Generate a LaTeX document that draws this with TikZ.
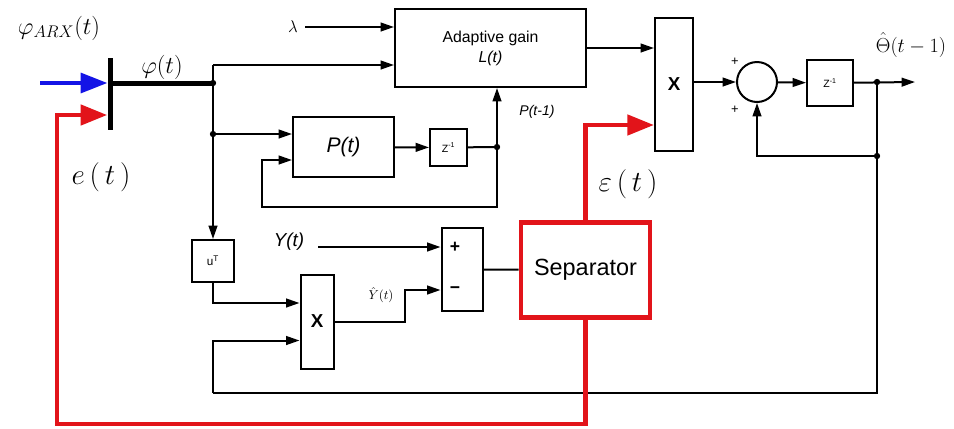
\documentclass[tikz,border=0pt]{standalone}
\usepackage{amsmath,amssymb}
\usepackage{fontspec}
\setmainfont{Liberation Sans}
\setsansfont{Liberation Sans}
\usepackage{tikz}
\usetikzlibrary{arrows.meta,calc,positioning}
\definecolor{sgred}{RGB}{226,20,26}
\definecolor{sgblue}{RGB}{20,20,230}

\begin{document}
\begin{tikzpicture}[
  x=0.3mm,y=-0.3mm,
  blk/.style={draw,line width=0.6mm,inner sep=0pt,align=center},
  redblk/.style={blk,draw=sgred,line width=1.4mm},
  wire/.style={line width=0.6mm},
  arr/.style={wire,-{Triangle[length=4mm,width=2.6mm]}},
  redw/.style={line width=1.4mm,sgred},
  redarr/.style={redw,-{Triangle[length=8mm,width=6mm]}},
  bluearr/.style={line width=1mm,sgblue,-{Triangle[length=8mm,width=6mm]}},
  jdot/.style={circle,fill,inner sep=0pt,minimum size=1.9mm},
  mlab/.style={inner sep=1pt,font=\fontsize{22}{26}\selectfont}
]
  \useasboundingbox (0,0) rectangle (954,428);
  \node[fill,inner sep=0pt,minimum width=1.5mm,minimum height=72*0.3mm] (mux) at (110,94) {};
  \node[blk,minimum width=191*0.3mm,minimum height=78*0.3mm,font=\fontsize{13.5}{17}\selectfont] (gain) at (490.5,48) {Adaptive gain\\\textit{L(t)}};
  \node[blk,minimum width=101*0.3mm,minimum height=60*0.3mm,font=\fontsize{18}{22}\selectfont\itshape] (ptb) at (343.5,147) {P(t)};
  \node[blk,minimum size=37*0.3mm,font=\fontsize{9}{10}\selectfont] (zp) at (448.5,147.5) {Z\textsuperscript{-1}};
  \node[blk,minimum width=38*0.3mm,minimum height=133*0.3mm,font=\fontsize{16}{18}\selectfont\bfseries] (xup) at (674,84.5) {X};
  \node[blk,circle,minimum size=40*0.3mm] (sumc) at (757,82) {};
  \node[blk,minimum size=46*0.3mm,font=\fontsize{9}{10}\selectfont] (zd) at (830,83) {Z\textsuperscript{-1}};
  \node[blk,minimum size=42*0.3mm,font=\fontsize{10}{12}\selectfont] (ut) at (213,261) {u\textsuperscript{T}};
  \node[blk,minimum width=33*0.3mm,minimum height=94*0.3mm,font=\fontsize{16}{18}\selectfont\bfseries] (xlo) at (317,321.5) {X};
  \node[blk,minimum width=41*0.3mm,minimum height=83*0.3mm] (diff) at (462,269.5) {};
  \node[redblk,minimum width=129*0.3mm,minimum height=95*0.3mm,font=\fontsize{20}{24}\selectfont] (sep) at (585.5,270) {Separator};

  \node[mlab] (arxlab) at (59,28) {$\varphi_{ARX}(t)$};
  \node[mlab] (philab) at (162,67) {$\varphi(t)$};
  \node[mlab,font=\fontsize{25}{30}\selectfont] (elab) at (101,177) {$e\,(\,t\,)$};
  \node[mlab,font=\fontsize{25}{30}\selectfont] (epslab) at (628,184) {$\varepsilon\,(\,t\,)$};
  \node[inner sep=1pt,font=\fontsize{15}{18}\selectfont] (lam) at (293,27) {$\lambda$};
  \node[inner sep=1pt,font=\fontsize{12}{14}\selectfont\itshape] (plab) at (537,112) {P(t-1)};
  \node[inner sep=0pt,font=\fontsize{16}{19}\selectfont] (thlab) at (911,45) {$\hat{\Theta}(t-1)$};
  \node[inner sep=1pt,font=\fontsize{16}{19}\selectfont\itshape] (yt) at (289,242) {Y(t)};
  \node[inner sep=0pt,font=\fontsize{11}{13}\selectfont] (yhlab) at (381,295) {$\hat{Y}(t)$};
  \node[inner sep=0pt,font=\fontsize{11}{13}\selectfont] (pa) at (735,62) {+};
  \node[inner sep=0pt,font=\fontsize{11}{13}\selectfont] (pb) at (735,110) {+};
  \node[inner sep=0pt,font=\fontsize{15}{17}\selectfont\bfseries] (dplus) at (455,247) {+};
  \node[inner sep=0pt,font=\fontsize{15}{17}\selectfont\bfseries] (dminus) at (455,290) {\textminus};

  \coordinate (arxin) at (40,83);
  \coordinate (phi) at (213,83);
  \coordinate (ptop) at (213,65);
  \coordinate (pmid) at (213,134);
  \coordinate (pd) at (497,147);
  \coordinate (pback) at (262,207);
  \coordinate (odot) at (877,82);
  \coordinate (fb) at (877,156);
  \coordinate (fbr) at (877,393);
  \coordinate (fbl) at (213,393);
  \coordinate (thout) at (915,82);
  \coordinate (ebot) at (57,424);
  \coordinate (ein) at (57,115);
  \coordinate (ytin) at (318,247);

  \draw[bluearr] (arxin) -- (arxin-|mux.west);
  \draw[line width=1.5mm] (arxin-|mux) -- (phi);
  \draw[wire] (ptop) -- (phi);
  \draw[arr] (ptop) -- (ptop-|gain.west);
  \draw[arr] (phi) -- (ut);
  \draw[arr] (pmid) -- (pmid-|ptb.west);
  \draw[arr] (lam.east) ++(6,0) -- (lam-|gain.west);
  \draw[arr] (gain.east) -- (gain.east-|xup.west);
  \draw[arr] (ptb) -- (zp);
  \draw[wire] (zp) -- (pd);
  \draw[arr] (pd) -- (pd|-gain.south);
  \draw[arr] (pd) |- (pback) |- ($(ptb.west)+(0,13)$);
  \draw[arr] (xup.east|-sumc) -- (sumc);
  \draw[arr] (sumc) -- (zd);
  \draw[arr] (zd) -- (thout);
  \draw[wire] (odot) -- (fbr) -- (fbl);
  \draw[arr] (fb) -| (sumc);
  \draw[arr] (fbl) |- ($(xlo.west)+(0,19)$);
  \draw[arr] (ut) |- ($(xlo.west)+(0,-18.5)$);
  \draw[arr] (xlo.east) -- ++(70,0) |- ($(diff.west)+(0,20.5)$);
  \draw[arr] (ytin) -- (ytin-|diff.west);
  \draw[wire] (diff) -- (sep);
  \draw[redarr] (sep.north) |- ($(xup.west)+(0,40.5)$);
  \draw[redarr] (sep.south) |- (ebot) -- (ein) -- (ein-|mux.west);
  \foreach \p in {phi,pmid,pd,odot,fb} \node[jdot] at (\p) {};
\end{tikzpicture}
\end{document}
